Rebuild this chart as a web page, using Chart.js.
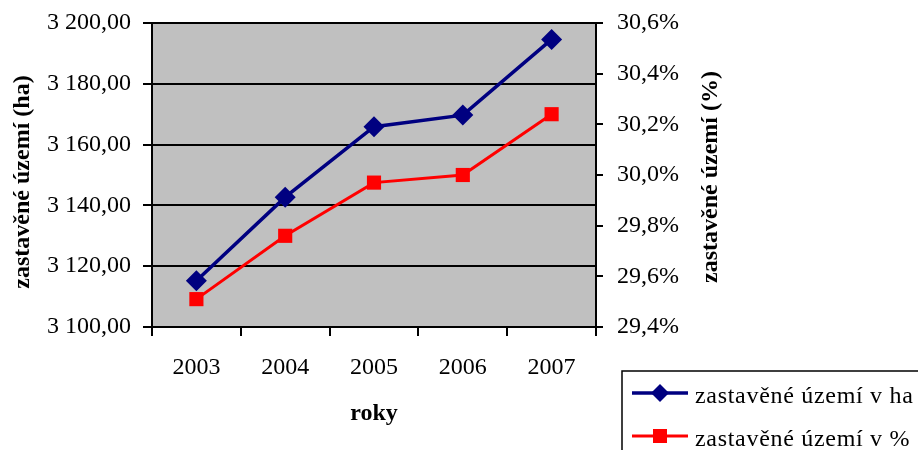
<!DOCTYPE html>
<html>
<head>
<meta charset="utf-8">
<script src="https://cdn.jsdelivr.net/npm/chart.js@4/dist/chart.umd.min.js"></script>
<style>
  body { margin: 0; background: #fff; }
</style>
</head>
<body>
<canvas id="myChart" width="918" height="450"></canvas>
<script>
const years = ["2003", "2004", "2005", "2006", "2007"];
const areaHa = [3115.2, 3142.7, 3165.9, 3169.7, 3194.6];
const areaPct = [29.51, 29.76, 29.97, 30.0, 30.24];
const seriesNames = ["zastavěné území v ha", "zastavěné území v %"];
const axisTitles = ["zastavěné území (ha)", "zastavěné území (%)", "roky"];

const serif = "'Liberation Serif', 'Times New Roman', serif";

const ctx = document.getElementById("myChart");

// grey plot background
const plotBg = {
  id: "plotBg",
  beforeDraw: function (chart) {
    const a = chart.chartArea;
    const c = chart.ctx;
    c.save();
    c.fillStyle = "#c0c0c0";
    c.fillRect(a.left, a.top, a.right - a.left, a.bottom - a.top);
    c.restore();
  },
};

// y titles read bottom-to-top on both sides, legend boxed at the bottom right
const extras = {
  id: "extras",
  afterDraw: function (chart) {
    const c = chart.ctx;
    c.save();
    c.fillStyle = "#000";
    c.font = "bold 24px " + serif;
    c.textAlign = "center";
    c.textBaseline = "middle";
    [[23, 182, axisTitles[0]], [711, 177, axisTitles[1]]].forEach(function (t) {
      c.save();
      c.translate(t[0], t[1]);
      c.rotate(-Math.PI / 2);
      c.fillText(t[2], 0, 0);
      c.restore();
    });

    // legend
    c.lineWidth = 1.5;
    c.strokeStyle = "#000";
    c.strokeRect(622, 371, 400, 200);
    c.font = "24px " + serif;
    c.letterSpacing = "0.7px";
    c.textAlign = "left";
    c.textBaseline = "alphabetic";
    chart.data.datasets.forEach(function (ds, i) {
      const y = 393 + i * 43;
      c.strokeStyle = ds.borderColor;
      c.lineWidth = ds.borderWidth;
      c.beginPath();
      c.moveTo(632, y);
      c.lineTo(688, y);
      c.stroke();
      c.fillStyle = ds.backgroundColor;
      c.beginPath();
      if (ds.pointStyle === "rectRot") {
        c.moveTo(660, y - 9);
        c.lineTo(669, y);
        c.lineTo(660, y + 9);
        c.lineTo(651, y);
      } else {
        c.rect(653, y - 7, 14, 14);
      }
      c.closePath();
      c.fill();
      c.fillStyle = "#000";
      c.fillText(ds.label, 695, y + 10);
    });
    c.restore();
  },
};

function fitY(width) {
  return function (s) {
    s.width = width;
    s.paddingTop = 0;
    s.paddingBottom = 0;
  };
}

const chart = new Chart(ctx, {
  type: "line",
  data: {
    labels: years,
    datasets: [
      {
        label: seriesNames[0],
        data: areaHa,
        yAxisID: "y",
        borderColor: "#000080",
        backgroundColor: "#000080",
        borderWidth: 3.5,
        pointStyle: "rectRot",
        pointRadius: 10.5,
        pointBorderWidth: 0,
        tension: 0,
      },
      {
        label: seriesNames[1],
        data: areaPct,
        yAxisID: "y1",
        borderColor: "#ff0000",
        backgroundColor: "#ff0000",
        borderWidth: 3,
        pointStyle: "rect",
        pointRadius: 10,
        pointBorderWidth: 0,
        tension: 0,
      },
    ],
  },
  options: {
    responsive: false,
    animation: false,
    layout: { padding: { top: 23, left: 0, right: 0, bottom: 0 } },
    plugins: {
      legend: { display: false },
      tooltip: { enabled: false },
    },
    scales: {
      x: {
        offset: true,
        afterFit: function (s) { s.height = 123; },
        grid: {
          offset: true,
          drawOnChartArea: false,
          color: "#000",
          lineWidth: 2,
          tickLength: 9,
        },
        border: { color: "#000", width: 2 },
        ticks: {
          color: "#000",
          padding: 17,
          maxRotation: 0,
          font: { family: serif, size: 24 },
        },
        title: {
          display: true,
          text: axisTitles[2],
          color: "#000",
          padding: { top: 0, bottom: 22 },
          font: { family: serif, size: 24, weight: "bold" },
        },
      },
      y: {
        position: "left",
        min: 3100,
        max: 3200,
        afterFit: fitY(152),
        grid: { color: "#000", lineWidth: 2, tickLength: 9 },
        border: { color: "#000", width: 2 },
        ticks: {
          stepSize: 20,
          color: "#000",
          padding: 12,
          font: { family: serif, size: 24 },
          callback: function (v) {
            return v.toFixed(2).replace(".", ",").replace(/\B(?=(\d{3})+(?!\d))/g, " ");
          },
        },
      },
      y1: {
        position: "right",
        min: 29.4,
        max: 30.6,
        afterFit: fitY(322),
        grid: { drawOnChartArea: false, color: "#000", lineWidth: 2, tickLength: 7 },
        border: { color: "#000", width: 2 },
        ticks: {
          stepSize: 0.2,
          color: "#000",
          padding: 14,
          font: { family: serif, size: 24 },
          callback: function (v) {
            return v.toFixed(1).replace(".", ",") + "%";
          },
        },
      },
    },
  },
  plugins: [plotBg, extras],
});
</script>
</body>
</html>
